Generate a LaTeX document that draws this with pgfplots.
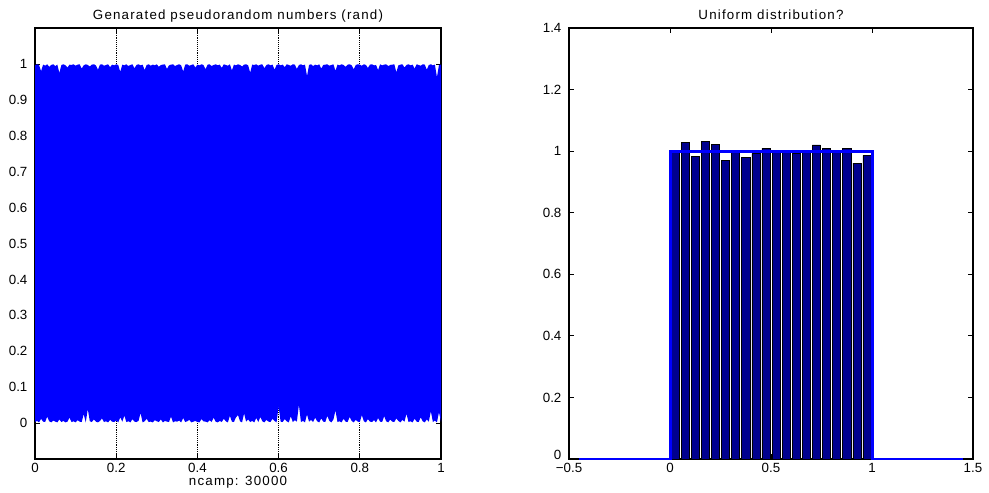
\documentclass[border=0pt]{standalone}
\usepackage{pgfplots}
\pgfplotsset{compat=1.18}
\usepgfplotslibrary{fillbetween}
\usepackage{fontspec}
\setmainfont{Liberation Sans}
\newfontfamily\spaced{Liberation Sans}[LetterSpace=9]
\definecolor{barnavy}{RGB}{0,0,143}

\pgfplotstableread{
x y
0.000 0.996
0.005 0.999
0.010 0.997
0.015 0.980
0.020 0.998
0.025 0.995
0.030 0.999
0.035 0.992
0.040 0.997
0.045 0.999
0.050 0.994
0.055 0.998
0.060 0.975
0.065 0.997
0.070 0.999
0.075 0.996
0.080 0.990
0.085 0.998
0.090 0.997
0.095 0.999
0.100 0.995
0.105 0.998
0.110 0.999
0.115 0.987
0.120 0.996
0.125 0.999
0.130 0.997
0.135 0.993
0.140 0.998
0.145 0.999
0.150 0.996
0.155 0.984
0.160 0.998
0.165 0.999
0.170 0.995
0.175 0.997
0.180 0.999
0.185 0.991
0.190 0.998
0.195 0.996
0.200 0.999
0.205 0.997
0.210 0.978
0.215 0.998
0.220 0.996
0.225 0.999
0.230 0.994
0.235 0.997
0.240 0.999
0.245 0.988
0.250 0.997
0.255 0.999
0.260 0.996
0.265 0.998
0.270 0.983
0.275 0.997
0.280 0.999
0.285 0.995
0.290 0.998
0.295 0.996
0.300 0.999
0.305 0.992
0.310 0.997
0.315 0.998
0.320 0.999
0.325 0.986
0.330 0.996
0.335 0.998
0.340 0.999
0.345 0.994
0.350 0.997
0.355 0.999
0.360 0.996
0.365 0.979
0.370 0.998
0.375 0.999
0.380 0.995
0.385 0.997
0.390 0.999
0.395 0.990
0.400 0.998
0.405 0.996
0.410 0.999
0.415 0.997
0.420 0.985
0.425 0.998
0.430 0.999
0.435 0.994
0.440 0.997
0.445 0.999
0.450 0.996
0.455 0.998
0.460 0.989
0.465 0.999
0.470 0.997
0.475 0.995
0.480 0.999
0.485 0.982
0.490 0.998
0.495 0.996
0.500 0.999
0.505 0.997
0.510 0.993
0.515 0.998
0.520 0.999
0.525 0.996
0.530 0.976
0.535 0.998
0.540 0.997
0.545 0.999
0.550 0.995
0.555 0.998
0.560 0.999
0.565 0.988
0.570 0.997
0.575 0.999
0.580 0.996
0.585 0.998
0.590 0.984
0.595 0.997
0.600 0.999
0.605 0.996
0.610 0.998
0.615 0.991
0.620 0.999
0.625 0.997
0.630 0.995
0.635 0.999
0.640 0.998
0.645 0.986
0.650 0.997
0.655 0.999
0.660 0.996
0.665 0.998
0.670 0.966
0.675 0.997
0.680 0.999
0.685 0.994
0.690 0.998
0.695 0.996
0.700 0.999
0.705 0.987
0.710 0.997
0.715 0.998
0.720 0.999
0.725 0.995
0.730 0.997
0.735 0.999
0.740 0.981
0.745 0.998
0.750 0.996
0.755 0.999
0.760 0.997
0.765 0.992
0.770 0.998
0.775 0.999
0.780 0.996
0.785 0.985
0.790 0.997
0.795 0.999
0.800 0.998
0.805 0.995
0.810 0.999
0.815 0.997
0.820 0.989
0.825 0.998
0.830 0.999
0.835 0.996
0.840 0.997
0.845 0.983
0.850 0.999
0.855 0.996
0.860 0.998
0.865 0.999
0.870 0.994
0.875 0.997
0.880 0.998
0.885 0.999
0.890 0.977
0.895 0.996
0.900 0.998
0.905 0.999
0.910 0.990
0.915 0.997
0.920 0.999
0.925 0.996
0.930 0.998
0.935 0.987
0.940 0.999
0.945 0.997
0.950 0.995
0.955 0.999
0.960 0.998
0.965 0.984
0.970 0.997
0.975 0.999
0.980 0.996
0.985 0.998
0.990 0.963
0.995 0.997
1.000 0.998
}\upperenv

\pgfplotstableread{
x y
0.000 0.003
0.005 0.006
0.010 0.002
0.015 0.012
0.020 0.004
0.025 0.003
0.030 0.018
0.035 0.005
0.040 0.002
0.045 0.007
0.050 0.004
0.055 0.002
0.060 0.010
0.065 0.003
0.070 0.006
0.075 0.002
0.080 0.004
0.085 0.015
0.090 0.003
0.095 0.005
0.100 0.002
0.105 0.008
0.110 0.004
0.115 0.003
0.120 0.025
0.125 0.002
0.130 0.039
0.135 0.005
0.140 0.003
0.145 0.010
0.150 0.004
0.155 0.002
0.160 0.006
0.165 0.013
0.170 0.003
0.175 0.005
0.180 0.002
0.185 0.009
0.190 0.004
0.195 0.003
0.200 0.007
0.205 0.002
0.210 0.016
0.215 0.004
0.220 0.021
0.225 0.003
0.230 0.005
0.235 0.002
0.240 0.011
0.245 0.004
0.250 0.003
0.255 0.006
0.260 0.028
0.265 0.002
0.270 0.005
0.275 0.012
0.280 0.003
0.285 0.004
0.290 0.002
0.295 0.008
0.300 0.005
0.305 0.003
0.310 0.010
0.315 0.002
0.320 0.006
0.325 0.004
0.330 0.003
0.335 0.018
0.340 0.002
0.345 0.005
0.350 0.004
0.355 0.007
0.360 0.002
0.365 0.014
0.370 0.003
0.375 0.005
0.380 0.009
0.385 0.002
0.390 0.004
0.395 0.006
0.400 0.003
0.405 0.002
0.410 0.011
0.415 0.005
0.420 0.004
0.425 0.002
0.430 0.008
0.435 0.003
0.440 0.015
0.445 0.004
0.450 0.002
0.455 0.006
0.460 0.003
0.465 0.012
0.470 0.005
0.475 0.002
0.480 0.020
0.485 0.004
0.490 0.003
0.495 0.016
0.500 0.022
0.505 0.005
0.510 0.002
0.515 0.027
0.520 0.004
0.525 0.010
0.530 0.003
0.535 0.006
0.540 0.002
0.545 0.014
0.550 0.003
0.555 0.017
0.560 0.005
0.565 0.002
0.570 0.009
0.575 0.004
0.580 0.003
0.585 0.012
0.590 0.006
0.595 0.002
0.600 0.046
0.605 0.004
0.610 0.003
0.615 0.011
0.620 0.005
0.625 0.002
0.630 0.019
0.635 0.003
0.640 0.008
0.645 0.004
0.650 0.051
0.655 0.003
0.660 0.006
0.665 0.002
0.670 0.024
0.675 0.004
0.680 0.009
0.685 0.003
0.690 0.015
0.695 0.005
0.700 0.002
0.705 0.013
0.710 0.004
0.715 0.003
0.720 0.020
0.725 0.006
0.730 0.002
0.735 0.010
0.740 0.035
0.745 0.003
0.750 0.005
0.755 0.002
0.760 0.012
0.765 0.004
0.770 0.003
0.775 0.017
0.780 0.006
0.785 0.002
0.790 0.009
0.795 0.004
0.800 0.003
0.805 0.022
0.810 0.005
0.815 0.002
0.820 0.011
0.825 0.004
0.830 0.003
0.835 0.008
0.840 0.002
0.845 0.014
0.850 0.004
0.855 0.003
0.860 0.019
0.865 0.005
0.870 0.002
0.875 0.010
0.880 0.004
0.885 0.003
0.890 0.013
0.895 0.006
0.900 0.002
0.905 0.009
0.910 0.004
0.915 0.026
0.920 0.003
0.925 0.005
0.930 0.002
0.935 0.012
0.940 0.004
0.945 0.003
0.950 0.016
0.955 0.005
0.960 0.002
0.965 0.010
0.970 0.004
0.975 0.033
0.980 0.003
0.985 0.007
0.990 0.002
0.995 0.030
1.000 0.004
}\lowerenv

\pgfplotstableread{
x y
0.025 0.995
0.075 1.029
0.125 0.984
0.175 1.032
0.225 1.022
0.275 0.971
0.325 0.999
0.375 0.980
0.425 0.993
0.475 1.009
0.525 0.998
0.575 0.997
0.625 0.992
0.675 0.998
0.725 1.020
0.775 1.009
0.825 1.000
0.875 1.010
0.925 0.961
0.975 0.986
}\histdata

\pgfplotsset{
  every axis title shift=0pt,
  mlab/.style={
    scale only axis,
    axis line style={line width=0.9pt, black},
    tick style={line width=0.6pt, black},
    tick align=inside,
    major tick length=3.75pt,
    font={\fontsize{10}{12}\selectfont},
    /pgf/number format/assume math mode=true,
    xticklabel style={inner sep=0pt, anchor=base, yshift=-10pt},
    yticklabel style={inner sep=0pt, anchor=east, xshift=-5.5pt},
    title style={at={(0.5,1)}, anchor=base, yshift=6pt, font={\spaced\fontsize{10}{12}\selectfont}},
    xlabel style={at={(0.5,0)}, anchor=base, yshift=-19.5pt, font={\spaced\fontsize{10}{12}\selectfont}},
    scaled ticks=false,
  }
}

\begin{document}
\begin{tikzpicture}
\path (-26.25pt,-24pt) rectangle (715.5pt,344.25pt);
\begin{axis}[mlab,
  at={(0pt,0pt)}, anchor=south west,
  width=304.5pt, height=323.25pt,
  xmin=0, xmax=1, ymin=-0.1, ymax=1.1,
  xtick={0,0.2,0.4,0.6,0.8,1},
  ytick={0,0.1,0.2,0.3,0.4,0.5,0.6,0.7,0.8,0.9,1},
  xmajorgrids,
  grid style={densely dotted, black, line width=0.5pt},
  title={Genarated pseudorandom numbers (rand)},
  xlabel={ncamp: 30000},
]
\addplot[name path=up, draw=none] table[x=x,y=y] {\upperenv};
\addplot[name path=lo, draw=none] table[x=x,y=y] {\lowerenv};
\addplot[fill=blue, draw=none] fill between[of=up and lo];
\end{axis}

\begin{axis}[mlab,
  at={(400.5pt,0pt)}, anchor=south west,
  width=303pt, height=323.25pt,
  xmin=-0.5, xmax=1.5, ymin=0, ymax=1.4,
  xtick={-0.5,0,0.5,1,1.5},
  xticklabels={−0.5,0,0.5,1,1.5},
  ytick={0,0.2,0.4,0.6,0.8,1,1.2,1.4},
  yticklabels={\smash{0},0.2,0.4,0.6,0.8,1,1.2,1.4},
  title={Uniform distribution?},
]
\addplot[ybar, bar width=0.04, bar shift=0pt, fill=barnavy, draw=black, line width=0.4pt] table[x=x,y=y] {\histdata};
\addplot[blue, line width=2.25pt] coordinates {(-0.45,0) (0,0) (0,1) (1,1) (1,0) (1.45,0)};
\end{axis}
\end{tikzpicture}
\end{document}
